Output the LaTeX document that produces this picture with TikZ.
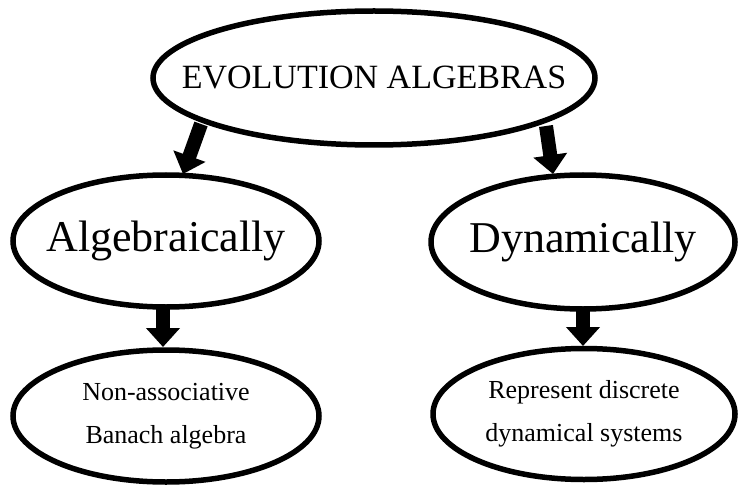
\documentclass[tikz,border=0pt]{standalone}
\usepackage{fontspec}
\setmainfont{Liberation Serif}
\usetikzlibrary{shapes.geometric,arrows.meta}
\begin{document}
\begin{tikzpicture}[x=1pt,y=-1pt,
  oval/.style={ellipse,draw=black,line width=5.5pt,inner sep=0pt},
  ovaltext/.style={align=center,inner sep=0pt},
  bigarrow/.style={line width=14pt,-{Triangle[length=19pt,width=33pt]}}]
\useasboundingbox (0,0) rectangle (743,486);
\node[oval,minimum width=442pt,minimum height=134pt] (top) at (374,78) {};
\node[oval,minimum width=306pt,minimum height=132pt] (alg) at (166,241) {};
\node[oval,minimum width=304pt,minimum height=134pt] (dyn) at (583,242) {};
\node[oval,minimum width=306pt,minimum height=132pt] (nab) at (166,416) {};
\node[oval,minimum width=302pt,minimum height=131pt] (rds) at (584,414) {};
\node[ovaltext,font=\fontsize{34}{40}\selectfont] (topt) at (top.center) {EVOLUTION ALGEBRAS};
\node[ovaltext,font=\fontsize{44}{50}\selectfont] (algt) at (alg.center) {Algebraically};
\node[ovaltext,font=\fontsize{44}{50}\selectfont] (dynt) at (dyn.center) {Dynamically};
\node[ovaltext,font=\fontsize{26}{43}\selectfont] (nabt) at (nab.center) {Non-associative\\Banach algebra};
\node[ovaltext,font=\fontsize{26}{43}\selectfont] (rdst) at (rds.center) {Represent discrete\\dynamical systems};
\coordinate (a1s) at (201,124);
\coordinate (a1e) at (183,174);
\coordinate (a2s) at (546,126);
\coordinate (a2e) at (553,174);
\coordinate (a3s) at (163,308);
\coordinate (a3e) at (163,347);
\coordinate (a4s) at (583,308);
\coordinate (a4e) at (583,346);
\draw[bigarrow] (a1s) -- (a1e);
\draw[bigarrow] (a2s) -- (a2e);
\draw[bigarrow] (a3s) -- (a3e);
\draw[bigarrow] (a4s) -- (a4e);
\end{tikzpicture}
\end{document}
